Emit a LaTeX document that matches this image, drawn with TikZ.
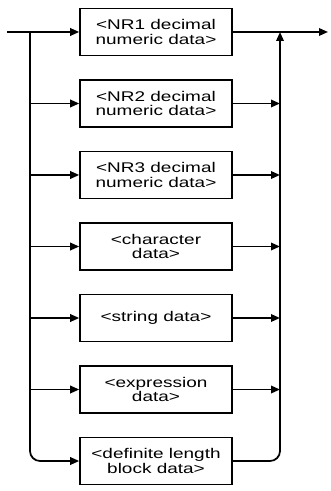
\documentclass[tikz,border=0pt]{standalone}
\usepackage{fontspec}
\setsansfont[FakeStretch=1.35]{Liberation Sans}
\usepackage{tikz}
\usetikzlibrary{positioning, arrows.meta}

\tikzset{
  databox/.style={draw, line width=0.9pt, minimum width=3.04cm, minimum height=0.94cm,
    align=center, inner sep=1pt, font=\sffamily\fontsize{8}{8.5}\selectfont},
  flow/.style={line width=1pt, -{Triangle[length=0.18cm,width=0.15cm]}},
}

\begin{document}
\begin{tikzpicture}
\useasboundingbox (0,0) rectangle (6.6,-9.82);
% --- data boxes ---
\foreach \n/\t in {1/{<NR1 decimal\\numeric data>}, 2/{<NR2 decimal\\numeric data>},
  3/{<NR3 decimal\\numeric data>}, 4/{<character\\data>}, 5/{<string data>},
  6/{<expression\\data>}, 7/{<definite length\\block data>}}{
\node[databox] (b\n) at (3.12,{-0.64-(\n-1)*1.43}) {\t};
}

% --- rails ---
\coordinate (in) at (0.15,-0.64);
\coordinate (split) at (0.6,-0.64);
\coordinate (join) at (5.6,-0.64);
\coordinate (out) at (6.56,-0.64);

\draw[flow] (in) -- (b1.west);
\draw[flow] (b1.east) -- (out);
\draw[flow,rounded corners=0.2cm] (split) |- (b7.west);
\draw[flow,rounded corners=0.2cm] (b7.east) -| (join);
\foreach \n in {2,...,6}{
\draw[flow] (split |- b\n.west) -- (b\n.west);
\draw[flow] (b\n.east) -- (join |- b\n.east);
}
\end{tikzpicture}
\end{document}
